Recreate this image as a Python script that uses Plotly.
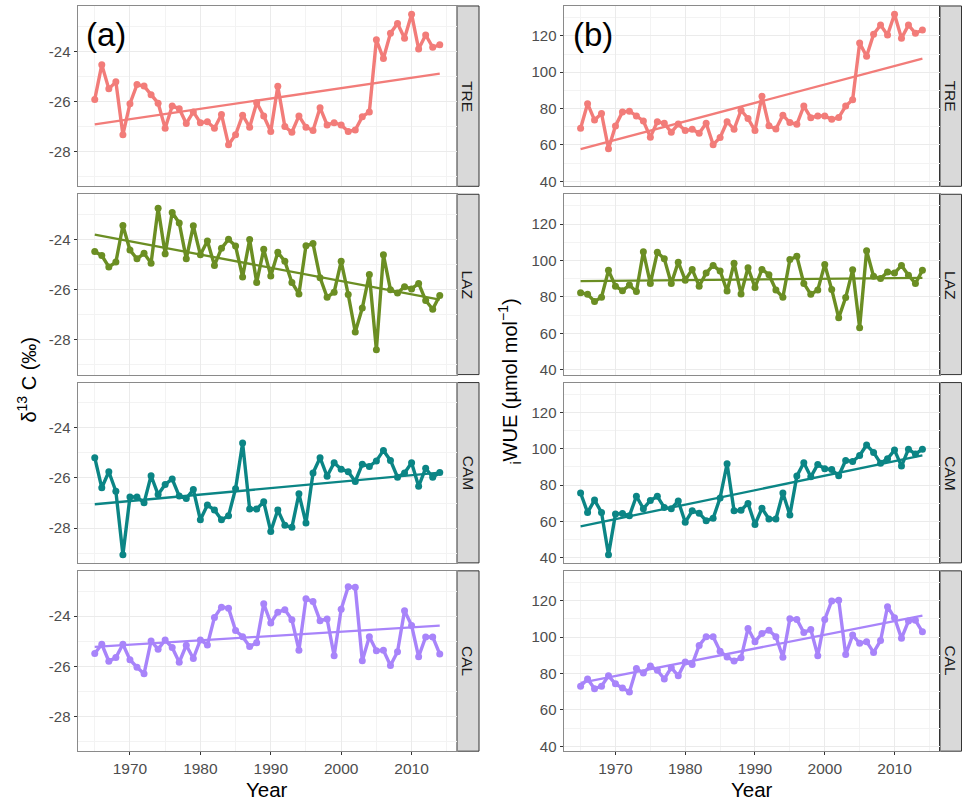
import numpy as np
import plotly.graph_objects as go

years = list(range(1965, 2015))
sites = ["TRE", "LAZ", "CAM", "CAL"]
colors = {"TRE": "#F27C79", "LAZ": "#6B8E23", "CAM": "#0B8585", "CAL": "#A884FA"}

# delta 13C (per mil), 1965-2014
d13c_tre = [-25.92, -24.54, -25.50, -25.22, -27.33, -26.09, -25.33, -25.39, -25.73, -26.07,
            -27.07, -26.18, -26.29, -26.88, -26.42, -26.85, -26.81, -27.07, -26.52, -27.73,
            -27.33, -26.55, -27.03, -26.05, -26.58, -27.20, -25.40, -27.00, -27.23, -26.58,
            -27.03, -27.16, -26.25, -26.94, -26.85, -26.94, -27.20, -27.14, -26.61, -26.42,
            -23.54, -24.29, -23.28, -22.89, -23.48, -22.52, -23.91, -23.35, -23.84, -23.74]
d13c_laz = [-24.48, -24.64, -25.09, -24.90, -23.44, -24.42, -24.77, -24.55, -24.94, -22.75,
            -24.57, -22.92, -23.34, -24.77, -23.45, -24.61, -24.06, -25.03, -24.35, -23.99,
            -24.26, -25.49, -24.00, -25.71, -24.39, -25.45, -24.51, -24.87, -25.71, -26.17,
            -24.25, -24.16, -25.52, -26.30, -26.10, -24.87, -26.19, -27.69, -26.73, -25.39,
            -28.40, -24.61, -26.00, -26.13, -25.88, -25.97, -25.75, -26.43, -26.78, -26.23]
d13c_cam = [-25.19, -26.39, -25.75, -26.53, -29.06, -26.76, -26.76, -26.99, -25.91, -26.66,
            -26.26, -26.04, -26.72, -26.82, -26.46, -27.67, -27.08, -27.28, -27.67, -27.51,
            -26.43, -24.60, -27.24, -27.24, -26.95, -28.13, -27.28, -27.89, -27.97, -26.63,
            -27.80, -25.80, -25.19, -25.93, -25.39, -25.65, -25.75, -26.14, -25.45, -25.54,
            -25.32, -24.90, -25.30, -25.97, -25.80, -25.39, -26.33, -25.61, -25.97, -25.78]
d13c_cal = [-25.49, -25.12, -25.80, -25.65, -25.12, -25.74, -26.04, -26.30, -24.99, -25.32,
            -24.95, -25.25, -25.84, -25.16, -25.69, -24.95, -25.15, -24.05, -23.64, -23.68,
            -24.57, -24.82, -25.21, -25.06, -23.51, -24.27, -23.84, -23.74, -24.14, -25.36,
            -23.31, -23.42, -24.18, -24.11, -25.58, -23.72, -22.83, -22.85, -25.78, -24.82,
            -25.38, -25.36, -25.97, -25.42, -23.78, -24.37, -25.62, -24.83, -24.83, -25.51]

# intrinsic water-use efficiency (umol mol-1), 1965-2014
iwue_tre = [69.2, 82.7, 73.7, 77.3, 58.0, 70.5, 78.2, 78.6, 76.0, 73.2,
            64.3, 72.8, 71.9, 67.0, 71.5, 67.9, 68.6, 66.5, 71.9, 60.2,
            64.1, 72.8, 68.6, 79.1, 74.6, 67.9, 86.8, 70.6, 68.8, 76.4,
            72.3, 71.4, 81.4, 75.0, 76.0, 76.0, 74.1, 75.1, 81.4, 84.9,
            116.0, 108.8, 120.9, 125.9, 120.5, 131.9, 118.7, 125.9, 121.4, 123.2]
iwue_laz = [82.3, 81.4, 77.5, 79.8, 94.6, 85.9, 83.4, 86.5, 82.9, 104.8,
            87.4, 104.5, 100.9, 87.4, 99.1, 89.2, 95.1, 85.9, 93.1, 97.3,
            94.2, 83.2, 98.5, 81.6, 96.0, 85.2, 95.1, 92.2, 83.8, 79.8,
            100.5, 102.3, 87.4, 81.4, 83.8, 97.8, 84.1, 68.5, 79.6, 94.9,
            63.1, 105.4, 91.3, 90.1, 93.7, 93.1, 97.3, 91.9, 87.4, 94.6]
iwue_cam = [75.7, 65.0, 71.8, 65.0, 41.8, 64.1, 64.5, 63.2, 73.9, 67.1,
            71.6, 73.9, 67.7, 67.1, 71.3, 59.6, 65.9, 64.6, 60.5, 61.8,
            73.0, 91.8, 65.9, 66.2, 70.0, 58.4, 67.3, 61.4, 61.4, 75.7,
            63.6, 85.0, 92.3, 84.6, 91.4, 89.1, 88.6, 85.2, 93.6, 93.0,
            96.3, 102.1, 98.0, 92.1, 94.5, 99.3, 90.5, 99.8, 97.1, 99.8]
iwue_cal = [73.0, 77.0, 71.6, 73.0, 78.7, 74.3, 72.0, 69.8, 82.7, 80.2,
            84.1, 81.8, 77.0, 83.2, 78.7, 86.3, 85.0, 95.4, 100.2, 100.2,
            92.2, 89.1, 86.8, 88.6, 104.7, 97.5, 102.0, 103.8, 100.2, 88.9,
            110.1, 109.7, 102.5, 104.2, 89.8, 109.7, 119.9, 120.3, 90.4, 101.1,
            96.6, 97.5, 91.6, 98.1, 116.7, 110.6, 99.3, 108.8, 109.2, 102.9]

d13c = {"TRE": d13c_tre, "LAZ": d13c_laz, "CAM": d13c_cam, "CAL": d13c_cal}
iwue = {"TRE": iwue_tre, "LAZ": iwue_laz, "CAM": iwue_cam, "CAL": iwue_cal}

d13c_ticks = [-24, -26, -28]
d13c_ticklabels = ["-24", "-26", "-28"]
iwue_ticks = [40, 60, 80, 100, 120]
iwue_ticklabels = ["40", "60", "80", "100", "120"]
year_ticks = [1970, 1980, 1990, 2000, 2010]

W, H = 962, 802
FONT = "Liberation Sans, Arial, sans-serif"

# panel geometry in pixels
col_x = [(77.5, 457.0), (563.5, 939.5)]
strip_w = 22
row_y = [(6, 187), (195, 376), (384, 565), (573, 754)]


def px(x):
    return x / W


def py(y):
    return 1 - y / H


def padded(vals):
    lo, hi = min(vals), max(vals)
    pad = (hi - lo) * 0.05
    return [lo - pad, hi + pad]


fig = go.Figure()
xr = [1965 - 49 * 0.05, 2014 + 49 * 0.05]
yr_left = padded(sum(d13c.values(), []))
yr_right = padded(sum(iwue.values(), []))

shapes = []
annotations = []
n = 0
columns = [(d13c, d13c_ticks, d13c_ticklabels, yr_left),
           (iwue, iwue_ticks, iwue_ticklabels, yr_right)]
for c, (data, ticks, ticklabels, yrange) in enumerate(columns):
    x0, x1 = col_x[c]
    for r, site in enumerate(sites):
        n += 1
        y0, y1 = row_y[r]
        xa = "x" if n == 1 else f"x{n}"
        ya = "y" if n == 1 else f"y{n}"
        vals = data[site]
        col = colors[site]
        fig.add_trace(go.Scatter(
            x=years, y=vals, mode="lines+markers", xaxis=xa, yaxis=ya,
            line=dict(color=col, width=3.4), marker=dict(color=col, size=7),
            showlegend=False, hoverinfo="x+y"))
        slope, icpt = np.polyfit(years, vals, 1)
        fx = np.array([years[0], years[-1]])
        fig.add_trace(go.Scatter(
            x=fx, y=slope * fx + icpt, mode="lines", xaxis=xa, yaxis=ya,
            line=dict(color=col, width=2.3), showlegend=False, hoverinfo="skip"))

        bottom = r == len(sites) - 1
        xkey = "xaxis" if n == 1 else f"xaxis{n}"
        ykey = "yaxis" if n == 1 else f"yaxis{n}"
        step = abs(ticks[1] - ticks[0])
        fig.layout[xkey] = dict(
            domain=[px(x0), px(x1)], anchor=ya, range=xr,
            tickvals=year_ticks, showticklabels=bottom,
            ticks="outside" if bottom else "", ticklen=3, tickcolor="#333333",
            tickfont=dict(family=FONT, size=15.5, color="#4D4D4D"),
            showgrid=True, gridcolor="#EBEBEB", gridwidth=1,
            minor=dict(tickvals=[1965, 1975, 1985, 1995, 2005, 2015], showgrid=True,
                       gridcolor="#F3F3F3", gridwidth=0.6),
            showline=True, linecolor="#8A8A8A", linewidth=1, mirror=True,
            zeroline=False)
        fig.layout[ykey] = dict(
            domain=[py(y1), py(y0)], anchor=xa, range=yrange,
            tickvals=ticks, ticktext=ticklabels,
            ticks="outside", ticklen=3, tickcolor="#333333",
            tickfont=dict(family=FONT, size=15, color="#4D4D4D"),
            showgrid=True, gridcolor="#EBEBEB", gridwidth=1,
            minor=dict(dtick=step / 2, tick0=ticks[0], showgrid=True,
                       gridcolor="#F3F3F3", gridwidth=0.6),
            showline=True, linecolor="#8A8A8A", linewidth=1, mirror=True,
            zeroline=False)

        # facet strip on the right of each panel
        shapes.append(dict(type="rect", xref="paper", yref="paper",
                           x0=px(x1), x1=px(x1 + strip_w), y0=py(y1), y1=py(y0),
                           fillcolor="#D9D9D9", line=dict(color="#333333", width=1), layer="below"))
        annotations.append(dict(xref="paper", yref="paper", x=px(x1 + strip_w / 2),
                                y=py((y0 + y1) / 2), text=site, showarrow=False, textangle=90,
                                font=dict(family=FONT, size=15.5, color="#1A1A1A"),
                                xanchor="center", yanchor="middle"))

    annotations.append(dict(xref="paper", yref="paper", x=px((x0 + x1) / 2), y=py(792),
                            text="Year", showarrow=False,
                            font=dict(family=FONT, size=20.5, color="#000000"),
                            xanchor="center", yanchor="middle"))

# panel letters
annotations.append(dict(xref="paper", yref="paper", x=px(84), y=py(35), text="(a)",
                        showarrow=False, font=dict(family=FONT, size=33, color="#000000"),
                        xanchor="left", yanchor="middle"))
annotations.append(dict(xref="paper", yref="paper", x=px(571), y=py(35), text="(b)",
                        showarrow=False, font=dict(family=FONT, size=33, color="#000000"),
                        xanchor="left", yanchor="middle"))

# y-axis titles
annotations.append(dict(xref="paper", yref="paper", x=px(27), y=py(381),
                        text="δ<sup>13</sup> C (‰)", showarrow=False, textangle=-90,
                        font=dict(family=FONT, size=20, color="#000000"),
                        xanchor="center", yanchor="middle"))
annotations.append(dict(xref="paper", yref="paper", x=px(510), y=py(383),
                        text="<sub>i</sub>WUE (µmol mol<sup>−1</sup>)", showarrow=False, textangle=-90,
                        font=dict(family=FONT, size=20, color="#000000"),
                        xanchor="center", yanchor="middle"))

fig.update_layout(
    width=W, height=H, margin=dict(l=0, r=0, t=0, b=0),
    paper_bgcolor="white", plot_bgcolor="white",
    shapes=shapes, annotations=annotations,
)

fig.write_html("out.html")
